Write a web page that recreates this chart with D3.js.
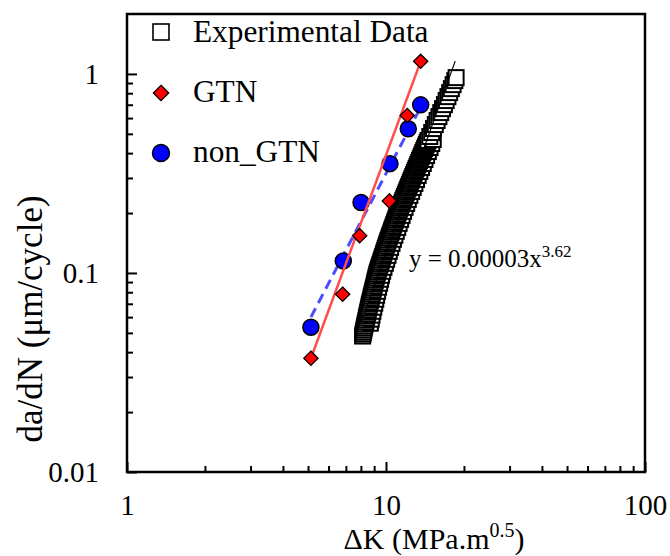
<!DOCTYPE html>
<html lang="en">
<head>
<meta charset="UTF-8">
<title>da/dN vs ΔK</title>
<script src="https://d3js.org/d3.v7.min.js"></script>
<style>
    body { margin: 0; background: #fff; }
    svg text { font-family: "Liberation Serif", "Times New Roman", serif; fill: #000; }
</style>
</head>
<body>
<div id="chart"></div>
<script>
// GTN simulation
const gtnK = [5.13, 6.80, 7.91, 10.30, 12.08, 13.61];
const gtnRate = [0.0373, 0.0782, 0.154, 0.230, 0.618, 1.157];
// non_GTN simulation
const nonGtnK = [5.13, 6.84, 8.01, 10.36, 12.19, 13.61];
const nonGtnRate = [0.0534, 0.115, 0.226, 0.354, 0.530, 0.699];

// experimental data, left edge of the marker column (bottom to top)
const expK = [
    8.12, 8.15, 8.18, 8.21, 8.24, 8.27, 8.30, 8.34, 8.37, 8.40,
    8.43, 8.47, 8.50, 8.53, 8.57, 8.60, 8.63, 8.67, 8.71, 8.75,
    8.78, 8.82, 8.86, 8.90, 8.94, 8.98, 9.02, 9.05, 9.09, 9.13,
    9.17, 9.21, 9.26, 9.31, 9.37, 9.42, 9.48, 9.54, 9.59, 9.65,
    9.71, 9.77, 9.82, 9.88, 9.94, 10.00, 10.06, 10.12, 10.18, 10.25,
    10.31, 10.38, 10.45, 10.51, 10.58, 10.65, 10.72, 10.79, 10.86, 10.93,
    11.00, 11.07, 11.14, 11.22, 11.29, 11.37, 11.45, 11.54, 11.62, 11.71,
    11.79, 11.88, 11.97, 12.05, 12.14, 12.23, 12.32, 12.41, 12.50, 12.59,
    12.69, 12.78, 12.88, 12.97, 13.07, 13.17, 13.27, 13.37, 13.47, 13.57,
    13.68, 13.78, 13.88, 13.99, 14.10, 14.20, 14.31, 14.42, 14.53, 14.76,
    15.01, 15.25, 15.50, 15.75, 16.01, 16.27, 16.53, 16.81, 17.07, 17.34,
    17.61, 17.88, 18.16, 18.44, 18.65
];
const expRate = [
    0.0482, 0.0493, 0.0504, 0.0516, 0.0528, 0.0540, 0.0553, 0.0566, 0.0579, 0.0593,
    0.0607, 0.0621, 0.0635, 0.0650, 0.0665, 0.0681, 0.0697, 0.0713, 0.0730, 0.0747,
    0.0764, 0.0782, 0.0800, 0.0819, 0.0838, 0.0858, 0.0878, 0.0898, 0.0919, 0.0941,
    0.0963, 0.0985, 0.1008, 0.1031, 0.1056, 0.1080, 0.1105, 0.1131, 0.1158, 0.1185,
    0.1212, 0.1241, 0.1270, 0.1299, 0.1330, 0.1361, 0.1393, 0.1425, 0.1459, 0.1493,
    0.1528, 0.1563, 0.1600, 0.1637, 0.1675, 0.1715, 0.1755, 0.1796, 0.1838, 0.1880,
    0.1925, 0.1970, 0.2016, 0.2062, 0.2111, 0.2160, 0.2211, 0.2262, 0.2315, 0.2369,
    0.2425, 0.2481, 0.2539, 0.2599, 0.2660, 0.2721, 0.2785, 0.2850, 0.2917, 0.2985,
    0.3055, 0.3126, 0.3199, 0.3273, 0.3350, 0.3428, 0.3508, 0.3590, 0.3674, 0.3760,
    0.3848, 0.3937, 0.4030, 0.4124, 0.4220, 0.4318, 0.4419, 0.4522, 0.4628, 0.4846,
    0.5075, 0.5314, 0.5565, 0.5832, 0.6105, 0.6394, 0.6695, 0.7011, 0.7348, 0.7690,
    0.8056, 0.8434, 0.8832, 0.9256, 0.958
];
// experimental data, right edge of the marker column
const expK2 = [
    8.70, 8.77, 8.83, 8.90, 8.97, 9.05, 9.13, 9.20, 9.28, 9.36,
    9.45, 9.53, 9.61, 9.71, 9.82, 9.94, 10.06, 10.18, 10.30, 10.42,
    10.55, 10.68, 10.82, 10.96, 11.10, 11.24, 11.39, 11.54, 11.69, 11.85,
    12.02, 12.19, 12.37, 12.56, 12.74, 12.93, 13.12, 13.31, 13.51, 13.72,
    13.93, 14.14, 14.35, 14.57, 14.79, 15.02, 15.22
];
const expRate2 = [
    0.0559, 0.0586, 0.0614, 0.0642, 0.0673, 0.0705, 0.0738, 0.0773, 0.0809, 0.0848,
    0.0888, 0.0930, 0.0974, 0.1020, 0.1068, 0.1118, 0.1171, 0.1226, 0.1285, 0.1345,
    0.1409, 0.1476, 0.1546, 0.1619, 0.1694, 0.1775, 0.1859, 0.1947, 0.2039, 0.2136,
    0.2237, 0.2342, 0.2453, 0.2569, 0.2691, 0.2817, 0.2951, 0.3091, 0.3236, 0.3389,
    0.3549, 0.3717, 0.3893, 0.4077, 0.4269, 0.4470, 0.4682
];

// fitted lines, end points
const gtnFitK = [5.13, 13.61];
const gtnFitRate = [0.0373, 1.157];
const nonGtnFitK = [5.13, 13.61];
const nonGtnFitRate = [0.060, 0.68];
const expFitK = [8.0, 18.5];
const expFitRate = [0.0558, 1.16];

const xTicks = [1, 10, 100];
const xTickLabels = ["1", "10", "100"];
const yTicks = [0.01, 0.1, 1];
const yTickLabels = ["0.01", "0.1", "1"];

const width = 670, height = 556;
const plotL = 127, plotR = 645, plotT = 14, plotB = 472;

const svg = d3.select("#chart").append("svg")
    .attr("width", width)
    .attr("height", height);

const x = d3.scaleLog().domain([1, 100]).range([plotL, plotR]);
const y = d3.scaleLog().domain([0.01, 2]).range([plotB, plotT]);

// minor ticks
const xMinor = [];
for (let d = 1; d < 100; d *= 10)
    for (let k = 2; k <= 9; k++) xMinor.push(d * k);
const yMinor = [];
for (let d = 0.01; d < 1.5; d *= 10)
    for (let k = 2; k <= 9; k++) if (d * k < 2) yMinor.push(+(d * k).toFixed(3));

svg.append("g")
    .attr("transform", `translate(0,${plotB})`)
    .call(d3.axisBottom(x).tickValues(xMinor).tickSizeInner(-6).tickSizeOuter(0).tickFormat(""))
    .call(g => g.select(".domain").remove())
    .selectAll("line").attr("stroke-width", 2);

svg.append("g")
    .attr("transform", `translate(${plotL},0)`)
    .call(d3.axisLeft(y).tickValues(yMinor).tickSizeInner(-6).tickSizeOuter(0).tickFormat(""))
    .call(g => g.select(".domain").remove())
    .selectAll("line").attr("stroke-width", 2);

// major ticks and labels
const xAxis = svg.append("g")
    .attr("transform", `translate(0,${plotB})`)
    .call(d3.axisBottom(x).tickValues(xTicks).tickSizeInner(-10).tickSizeOuter(0)
        .tickPadding(22).tickFormat((d, i) => xTickLabels[i]));
xAxis.select(".domain").remove();
xAxis.selectAll("line").attr("stroke-width", 2);
xAxis.selectAll("text").attr("font-size", 29).attr("font-family", null);

const yAxis = svg.append("g")
    .attr("transform", `translate(${plotL},0)`)
    .call(d3.axisLeft(y).tickValues(yTicks).tickSizeInner(-10).tickSizeOuter(0)
        .tickPadding(28).tickFormat((d, i) => yTickLabels[i]));
yAxis.select(".domain").remove();
yAxis.selectAll("line").attr("stroke-width", 2);
yAxis.selectAll("text").attr("font-size", 29).attr("font-family", null);

// frame
svg.append("rect")
    .attr("x", plotL).attr("y", plotT)
    .attr("width", plotR - plotL).attr("height", plotB - plotT)
    .attr("fill", "none").attr("stroke", "#000").attr("stroke-width", 2.5);

// experimental squares, drawn from low to high rate
const expPts = expK.map((k, i) => [k, expRate[i]])
    .concat(expK2.map((k, i) => [k, expRate2[i]]))
    .sort((a, b) => a[1] - b[1]);
const sq = 15;
svg.append("g").selectAll("rect")
    .data(expPts)
    .join("rect")
    .attr("x", d => x(d[0]) - sq / 2)
    .attr("y", d => y(d[1]) - sq / 2)
    .attr("width", sq).attr("height", sq)
    .attr("fill", "#fff").attr("stroke", "#000").attr("stroke-width", 2);

const line = d3.line().x(d => x(d[0])).y(d => y(d[1]));

svg.append("path")
    .datum(expFitK.map((k, i) => [k, expFitRate[i]]))
    .attr("d", line)
    .attr("fill", "none").attr("stroke", "#000").attr("stroke-width", 1.2);

svg.append("path")
    .datum(nonGtnFitK.map((k, i) => [k, nonGtnFitRate[i]]))
    .attr("d", line)
    .attr("fill", "none").attr("stroke", "#4d4dff").attr("stroke-width", 3)
    .attr("stroke-dasharray", "10,6");

svg.append("g").selectAll("circle")
    .data(nonGtnK.map((k, i) => [k, nonGtnRate[i]]))
    .join("circle")
    .attr("cx", d => x(d[0])).attr("cy", d => y(d[1]))
    .attr("r", 8)
    .attr("fill", "#0000ff").attr("stroke", "#000").attr("stroke-width", 1.5);

svg.append("path")
    .datum(gtnFitK.map((k, i) => [k, gtnFitRate[i]]))
    .attr("d", line)
    .attr("fill", "none").attr("stroke", "#ff4d4d").attr("stroke-width", 2.5);

const diamond = d3.symbol().type(d3.symbolDiamond2).size(130);
svg.append("g").selectAll("path")
    .data(gtnK.map((k, i) => [k, gtnRate[i]]))
    .join("path")
    .attr("d", diamond)
    .attr("transform", d => `translate(${x(d[0])},${y(d[1])})`)
    .attr("fill", "#ff0000").attr("stroke", "#000").attr("stroke-width", 1.3);

// equation
const eq = svg.append("text")
    .attr("x", 409).attr("y", 267)
    .attr("font-size", 25);
eq.append("tspan").text("y = 0.00003x");
eq.append("tspan").attr("font-size", 17).attr("dy", -10).text("3.62");

// legend
const legend = svg.append("g");
legend.append("rect")
    .attr("x", 161 - 8).attr("y", 32 - 8).attr("width", 16).attr("height", 16)
    .attr("fill", "#fff").attr("stroke", "#000").attr("stroke-width", 1.6);
legend.append("path")
    .attr("d", d3.symbol().type(d3.symbolDiamond2).size(150))
    .attr("transform", "translate(161,93)")
    .attr("fill", "#ff0000").attr("stroke", "#000").attr("stroke-width", 1.3);
legend.append("circle")
    .attr("cx", 161).attr("cy", 153).attr("r", 8.5)
    .attr("fill", "#0000ff").attr("stroke", "#000").attr("stroke-width", 1.5);
const legendLabels = ["Experimental Data", "GTN", "non_GTN"];
legend.selectAll("text.lbl")
    .data(legendLabels)
    .join("text")
    .attr("class", "lbl")
    .attr("x", 193)
    .attr("y", (d, i) => 42 + i * 60)
    .attr("font-size", 31.3)
    .text(d => d);

// axis titles
const xt = svg.append("text")
    .attr("x", 434).attr("y", 549)
    .attr("text-anchor", "middle")
    .attr("font-size", 30);
xt.append("tspan").text("ΔK (MPa.m");
xt.append("tspan").attr("font-size", 20).attr("dy", -12).text("0.5");
xt.append("tspan").attr("dy", 12).text(")");

svg.append("text")
    .attr("transform", "translate(42,319) rotate(-90)")
    .attr("text-anchor", "middle")
    .attr("font-size", 35)
    .text("da/dN (μm/cycle)");
</script>
</body>
</html>
